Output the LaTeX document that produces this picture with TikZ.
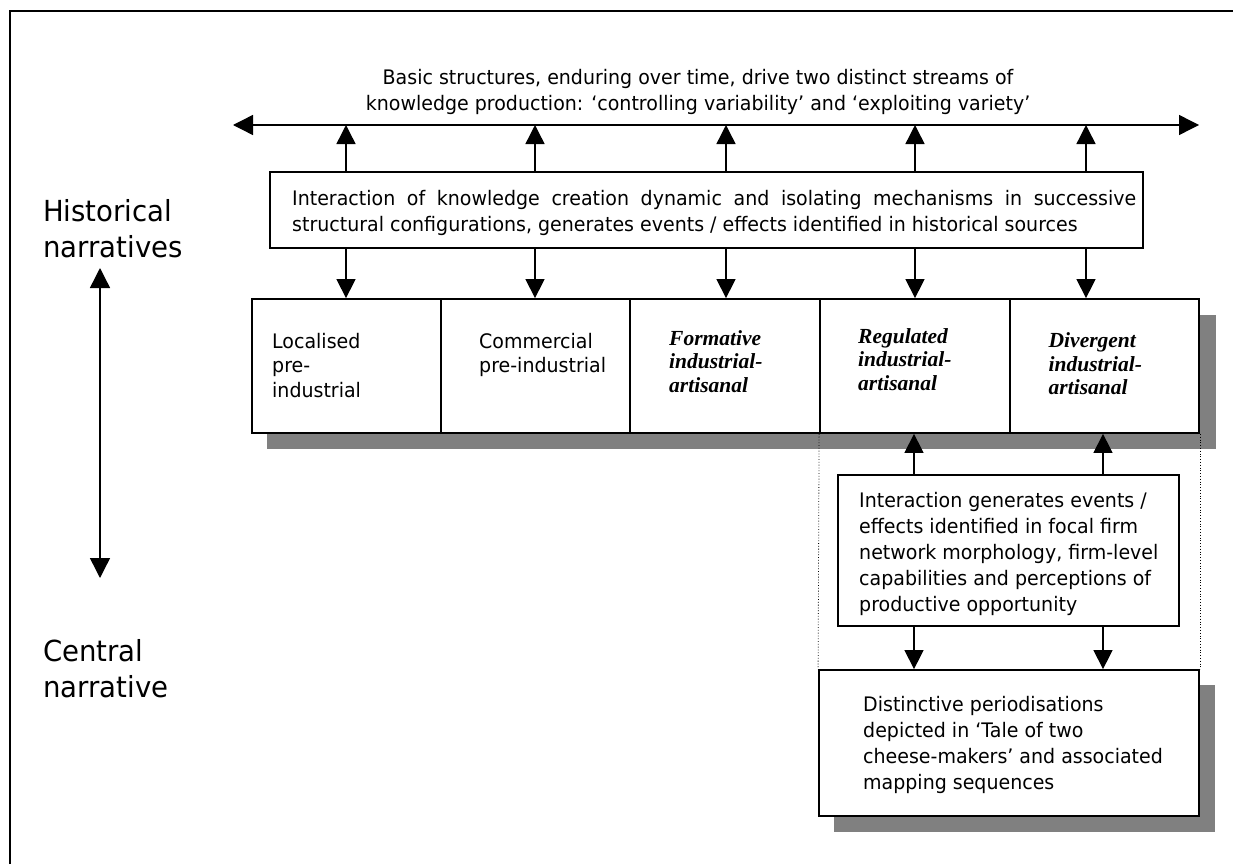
\documentclass[tikz,border=0pt]{standalone}
\usepackage{fontspec}
\setmainfont{DejaVu Sans}[FakeStretch=0.95]
\newfontfamily\phasefont{Liberation Serif}
\usetikzlibrary{arrows.meta}

\begin{document}
\begin{tikzpicture}[x=1pt,y=-1pt,
  panel/.style={draw, line width=1.8pt, fill=white, inner sep=0, rectangle},
  shade/.style={fill=black!50, draw=none},
  link/.style={line width=1.4pt, -{Triangle[length=19pt,width=19pt]}},
  twoway/.style={line width=1.4pt, {Triangle[length=20pt,width=20pt]}-{Triangle[length=20pt,width=20pt]}},
  guide/.style={line width=0.8pt, dotted},
  body/.style={font=\fontsize{20}{26}\selectfont, inner sep=0, align=left, anchor=north west},
  cellsans/.style={font=\fontsize{20}{24.5}\selectfont, inner sep=0, align=left, anchor=north west},
  cellserif/.style={font=\phasefont\bfseries\itshape\fontsize{21.5}{23.5}\selectfont, inner sep=0, align=left, anchor=north west},
  level/.style={font=\fontsize{29}{36}\selectfont, inner sep=0, align=left, anchor=north west},
]
\useasboundingbox (0,0) rectangle (1233,864);

% outer frame
\draw[line width=2pt] (10,864) -- (10,11) -- (1233,11);

% shadows behind the phase row and the periodisation box
\fill[shade] (267,315) rectangle (1216,449);
\fill[shade] (834,685) rectangle (1215,832);

% heading above the two-way stream arrow
\node[body, align=center, anchor=north] (head) at (698,65.8)
  {\strut Basic structures, enduring over time, drive two distinct streams of\\
   knowledge production: ‘controlling variability’ and ‘exploiting variety’};

% two-way stream arrow
\coordinate (L) at (233,125);
\coordinate (R) at (1199,125);
\draw[twoway] (L) -- (R);
\coordinate (a1) at (346,125);
\coordinate (a2) at (535,125);
\coordinate (a3) at (726,125);
\coordinate (a4) at (915,125);
\coordinate (a5) at (1086,125);

% interaction box
\node[panel, minimum width=873pt, minimum height=76pt] (t) at (706.5,210) {};
\node[body] (ttext) at (292,186.8)
  {\strut\makebox[844pt][s]{Interaction of knowledge creation dynamic and isolating mechanisms in successive}\\
   structural configurations, generates events / effects identified in historical sources};

% phase row
\node[panel, minimum width=189pt, minimum height=134pt] (c1) at (346.5,366) {};
\node[panel, minimum width=189pt, minimum height=134pt] (c2) at (535.5,366) {};
\node[panel, minimum width=190pt, minimum height=134pt] (c3) at (725,366) {};
\node[panel, minimum width=190pt, minimum height=134pt] (c4) at (915,366) {};
\node[panel, minimum width=189pt, minimum height=134pt] (c5) at (1104.5,366) {};

\node[cellsans] (c1t) at (272,330.85) {\strut Localised\\pre-\\industrial};
\node[cellsans] (c2t) at (479,330.85) {\strut Commercial\\pre-industrial};
\node[cellserif] (c3t) at (669,328.55) {\strut Formative\\industrial-\\artisanal};
\node[cellserif] (c4t) at (858,326.55) {\strut Regulated\\industrial-\\artisanal};
\node[cellserif] (c5t) at (1048.5,331.25) {\strut Divergent\\industrial-\\artisanal};

% arrows from the interaction box
\foreach \i in {1,...,5} {
  \draw[link] (t.north -| a\i) -- (a\i);
}
\draw[link] (a1 |- t.south) -- (a1 |- c1.north);
\draw[link] (a2 |- t.south) -- (a2 |- c2.north);
\draw[link] (a3 |- t.south) -- (a3 |- c3.north);
\draw[link] (a4 |- t.south) -- (a4 |- c4.north);
\draw[link] (a5 |- t.south) -- (a5 |- c5.north);

% focal firm box
\node[panel, minimum width=341pt, minimum height=151pt] (m) at (1008.5,550.5) {};
\node[body] (mtext) at (859,488.8)
  {\strut Interaction generates events /\\
   effects identified in focal firm\\
   network morphology, firm-level\\
   capabilities and perceptions of\\
   productive opportunity};

% periodisation box
\node[panel, minimum width=380pt, minimum height=146pt] (b) at (1009,743) {};
\node[body] (btext) at (863,693.5)
  {\strut Distinctive periodisations\\
   depicted in ‘Tale of two\\
   cheese-makers’ and associated\\
   mapping sequences};

% dotted guides from the last two phases to the periodisation box
\draw[guide] (c4.south west) -- (b.north west);
\draw[guide] (c5.south east) -- (b.north east);

% arrows around the focal firm box
\coordinate (f1) at (914,0);
\coordinate (f2) at (1103,0);
\draw[link] (f1 |- m.north) -- (f1 |- c4.south);
\draw[link] (f2 |- m.north) -- (f2 |- c5.south);
\draw[link] (f1 |- m.south) -- (f1 |- b.north);
\draw[link] (f2 |- m.south) -- (f2 |- b.north);

% narrative levels on the left
\node[level] (hist) at (43,195.8) {\strut Historical\\narratives};
\node[level] (cent) at (43,635.8) {\strut Central\\narrative};
\coordinate (V1) at (100,268);
\coordinate (V2) at (100,578);
\draw[twoway] (V1) -- (V2);

\end{tikzpicture}
\end{document}
